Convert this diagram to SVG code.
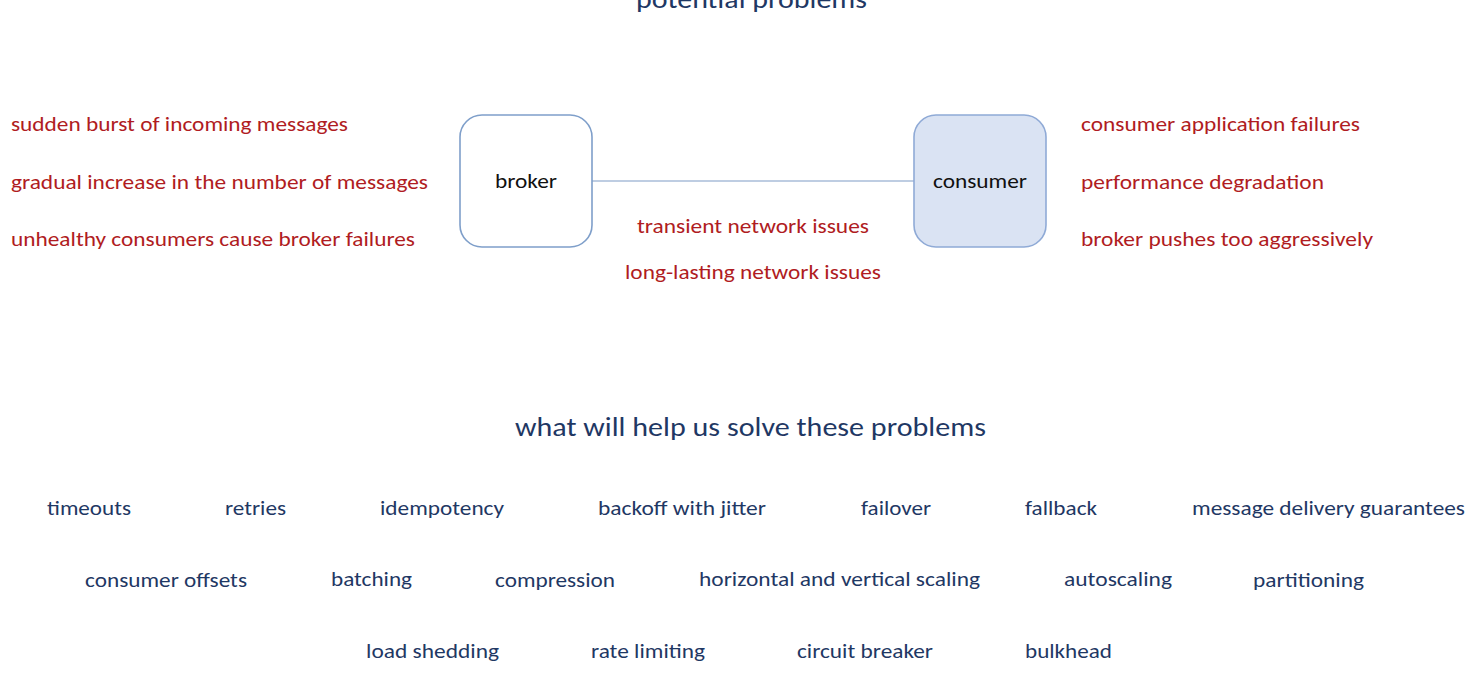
<svg xmlns="http://www.w3.org/2000/svg" width="1476" height="688" viewBox="0 0 1476 688">
<style>
text{font-family:Carlito,Lato,"Open Sans","Liberation Sans",sans-serif;}
.title{font-size:26px;fill:#1f3864;}
.red{font-size:20px;fill:#b01c22;}
.sol{font-size:20px;fill:#1f3864;}
.lbl{font-size:20px;fill:#111;text-anchor:middle;}
.box{stroke-width:1.6;}
</style>
<rect width="1476" height="688" fill="#fff"/>
<text class="title" x="636" y="8" textLength="231" lengthAdjust="spacingAndGlyphs">potential problems</text>
<g id="connectors">
<line x1="592" y1="181" x2="914" y2="181" stroke="#a9bdd9" stroke-width="1.6"/>
</g>
<g id="broker">
<rect class="box" x="460" y="115" width="132" height="132" rx="22" fill="#fff" stroke="#7f9fca"/>
<text class="lbl" x="526" y="188" textLength="62" lengthAdjust="spacingAndGlyphs">broker</text>
</g>
<g id="consumer">
<rect class="box" x="914" y="115" width="132" height="132" rx="22" fill="#dae3f3" stroke="#8faad6"/>
<text class="lbl" x="980" y="188" textLength="94" lengthAdjust="spacingAndGlyphs">consumer</text>
</g>
<g id="broker-problems">
<text class="red" x="11" y="131" textLength="337" lengthAdjust="spacingAndGlyphs">sudden burst of incoming messages</text>
<text class="red" x="11" y="189" textLength="417" lengthAdjust="spacingAndGlyphs">gradual increase in the number of messages</text>
<text class="red" x="11" y="246" textLength="404" lengthAdjust="spacingAndGlyphs">unhealthy consumers cause broker failures</text>
</g>
<g id="network-problems">
<text class="red" x="637" y="233" textLength="232" lengthAdjust="spacingAndGlyphs">transient network issues</text>
<text class="red" x="625" y="279" textLength="256" lengthAdjust="spacingAndGlyphs">long-lasting network issues</text>
</g>
<g id="consumer-problems">
<text class="red" x="1081" y="131" textLength="279" lengthAdjust="spacingAndGlyphs">consumer application failures</text>
<text class="red" x="1081" y="189" textLength="243" lengthAdjust="spacingAndGlyphs">performance degradation</text>
<text class="red" x="1081" y="246" textLength="292" lengthAdjust="spacingAndGlyphs">broker pushes too aggressively</text>
</g>
<text class="title" x="515" y="436" textLength="471" lengthAdjust="spacingAndGlyphs">what will help us solve these problems</text>
<g id="solutions">
<text class="sol" x="47" y="515" textLength="84" lengthAdjust="spacingAndGlyphs">timeouts</text>
<text class="sol" x="225" y="515" textLength="61" lengthAdjust="spacingAndGlyphs">retries</text>
<text class="sol" x="380" y="515" textLength="124" lengthAdjust="spacingAndGlyphs">idempotency</text>
<text class="sol" x="598" y="515" textLength="168" lengthAdjust="spacingAndGlyphs">backoff with jitter</text>
<text class="sol" x="861" y="515" textLength="70" lengthAdjust="spacingAndGlyphs">failover</text>
<text class="sol" x="1025" y="515" textLength="72" lengthAdjust="spacingAndGlyphs">fallback</text>
<text class="sol" x="1192" y="515" textLength="273" lengthAdjust="spacingAndGlyphs">message delivery guarantees</text>
<text class="sol" x="85" y="587" textLength="162" lengthAdjust="spacingAndGlyphs">consumer offsets</text>
<text class="sol" x="331" y="586" textLength="81" lengthAdjust="spacingAndGlyphs">batching</text>
<text class="sol" x="495" y="587" textLength="120" lengthAdjust="spacingAndGlyphs">compression</text>
<text class="sol" x="699" y="586" textLength="281" lengthAdjust="spacingAndGlyphs">horizontal and vertical scaling</text>
<text class="sol" x="1064" y="586" textLength="108" lengthAdjust="spacingAndGlyphs">autoscaling</text>
<text class="sol" x="1253" y="587" textLength="111" lengthAdjust="spacingAndGlyphs">partitioning</text>
<text class="sol" x="366" y="658" textLength="133" lengthAdjust="spacingAndGlyphs">load shedding</text>
<text class="sol" x="591" y="658" textLength="114" lengthAdjust="spacingAndGlyphs">rate limiting</text>
<text class="sol" x="797" y="658" textLength="136" lengthAdjust="spacingAndGlyphs">circuit breaker</text>
<text class="sol" x="1025" y="658" textLength="87" lengthAdjust="spacingAndGlyphs">bulkhead</text>
</g>
</svg>
